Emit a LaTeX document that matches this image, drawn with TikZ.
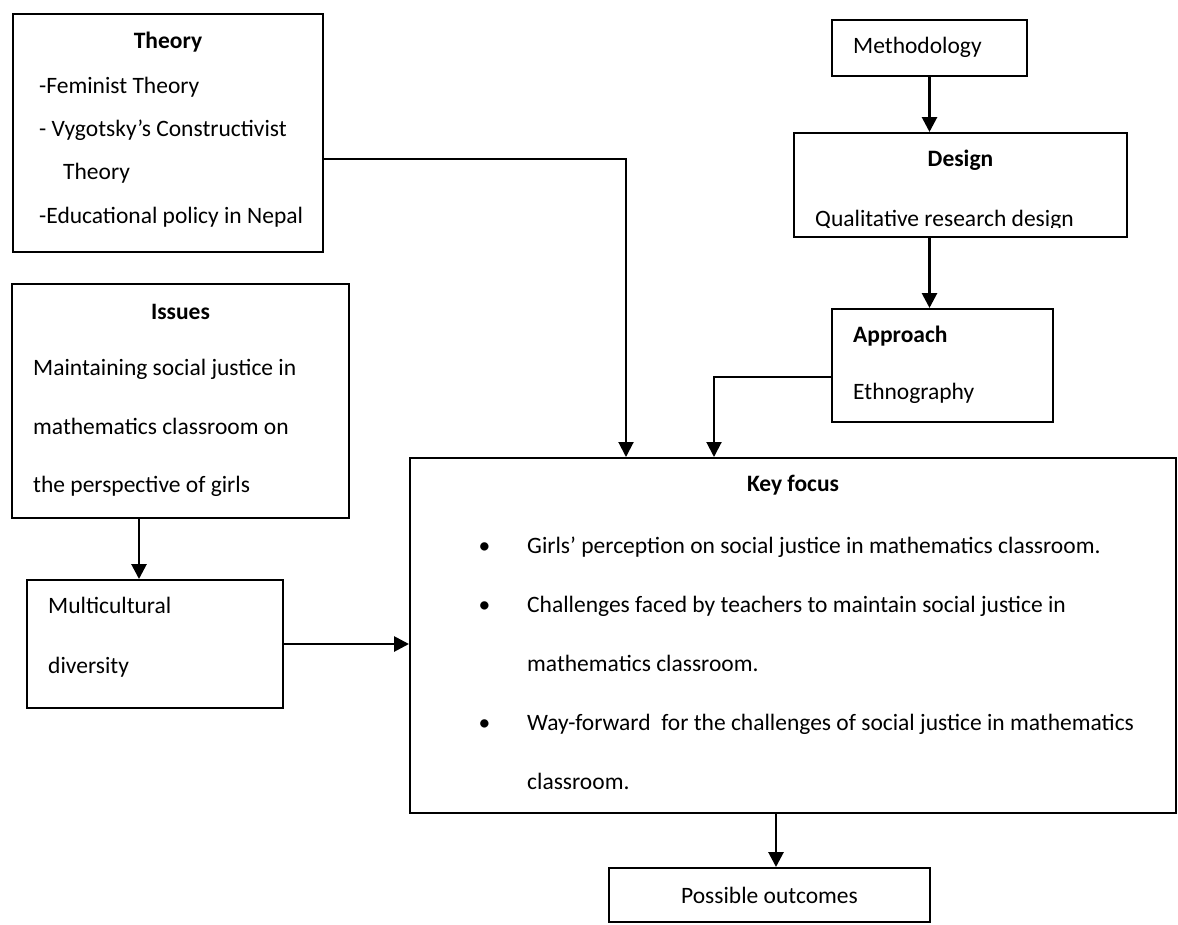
\documentclass[tikz,border=0pt]{standalone}
\usepackage{fontspec}
\setmainfont{Carlito}
\usetikzlibrary{arrows.meta, positioning, calc}

\newcommand{\kbul}{\leavevmode\llap{\textbullet\hspace{37pt}}}

\begin{document}
\begin{tikzpicture}[
  x=1pt, y=-1pt,
  box/.style={draw, line width=2pt, rectangle, inner sep=0pt},
  ttl/.style={inner sep=0pt, font=\fontsize{23.5}{28}\selectfont\bfseries},
  txt/.style={inner sep=0pt, anchor=west, align=left},
  arr/.style={-{Triangle[length=15pt, width=15pt]}, line width=2.8pt},
  link/.style={-{Triangle[length=15pt, width=15pt]}, line width=2pt}
]
\useasboundingbox (0,0) rectangle (1178,924);

% Boxes
\node[box, minimum width=310pt, minimum height=238pt] (theory) at (168, 133) {};
\node[box, minimum width=195pt, minimum height=56pt] (method) at (929.5, 48) {};
\node[box, minimum width=333pt, minimum height=104pt] (design) at (960.5, 185) {};
\node[box, minimum width=221pt, minimum height=113pt] (approach) at (942.5, 365.5) {};
\node[box, minimum width=337pt, minimum height=234pt] (issues) at (180.5, 401) {};
\node[box, minimum width=256pt, minimum height=128pt] (multi) at (155, 644) {};
\node[box, minimum width=766pt, minimum height=355pt] (keyfocus) at (793, 635.5) {};
\node[box, minimum width=321pt, minimum height=54pt] (outcomes) at (769.5, 895) {};

% --- Theory ---
\node[ttl] (theorytitle) at (168, 42) {Theory};
\node[txt, font=\fontsize{23.5}{43.3}\selectfont] (theorytext) at (39, 152)
  {-Feminist Theory\\- Vygotsky’s Constructivist\\\hspace*{24pt}Theory\\-Educational policy in Nepal};

% --- Methodology / Design / Approach ---
\node[txt, font=\fontsize{23.5}{28}\selectfont] (methodtext) at (853, 47) {Methodology};
\node[ttl] (designtitle) at (960.5, 160) {Design};
\begin{scope}
  \clip (794, 133) rectangle (1127, 227);
  \node[inner sep=0pt, anchor=base west, font=\fontsize{23.5}{28}\selectfont] (designtext) at (815, 226) {Qualitative research design};
\end{scope}
\node[txt, font=\fontsize{23.5}{57}\selectfont] (approachtext) at (853, 364.5) {\textbf{Approach}\\Ethnography};

% --- Issues / Multicultural ---
\node[ttl] (issuestitle) at (180.5, 312) {Issues};
\node[txt, font=\fontsize{23.5}{58.5}\selectfont] (issuestext) at (33, 428)
  {Maintaining social justice in\\mathematics classroom on\\the perspective of girls};
\node[txt, font=\fontsize{23.5}{60}\selectfont] (multitext) at (48, 637) {Multicultural\\diversity};

% --- Key focus / outcomes ---
\node[ttl] (keytitle) at (793, 485) {Key focus};
\node[txt, font=\fontsize{23.5}{59}\selectfont] (keytext) at (527, 663)
  {\kbul Girls’ perception on social justice in mathematics classroom.\\
   \kbul Challenges faced by teachers to maintain social justice in\\
   mathematics classroom.\\
   \kbul Way-forward\ \ for the challenges of social justice in mathematics\\
   classroom.};
\node[font=\fontsize{23.5}{28}\selectfont, inner sep=0pt] (outcomestext) at (769.5, 895) {Possible outcomes};

% --- Arrows ---
\draw[link] ([yshift=-26pt]theory.east) -| ([xshift=-167pt]keyfocus.north);
\draw[link] ([yshift=-11.5pt]approach.west) -| ([xshift=-79pt]keyfocus.north);
\draw[arr] (method.south) -- (method.south |- design.north);
\draw[arr] (method.south |- design.south) -- (method.south |- approach.north);
\draw[arr] ([xshift=-41.5pt]issues.south) -- ([xshift=-41.5pt]issues.south |- multi.north);
\draw[arr] (multi.east) -- (multi.east -| keyfocus.west);
\draw[arr] ([xshift=-17pt]keyfocus.south) -- ([xshift=-17pt]keyfocus.south |- outcomes.north);

\end{tikzpicture}
\end{document}
